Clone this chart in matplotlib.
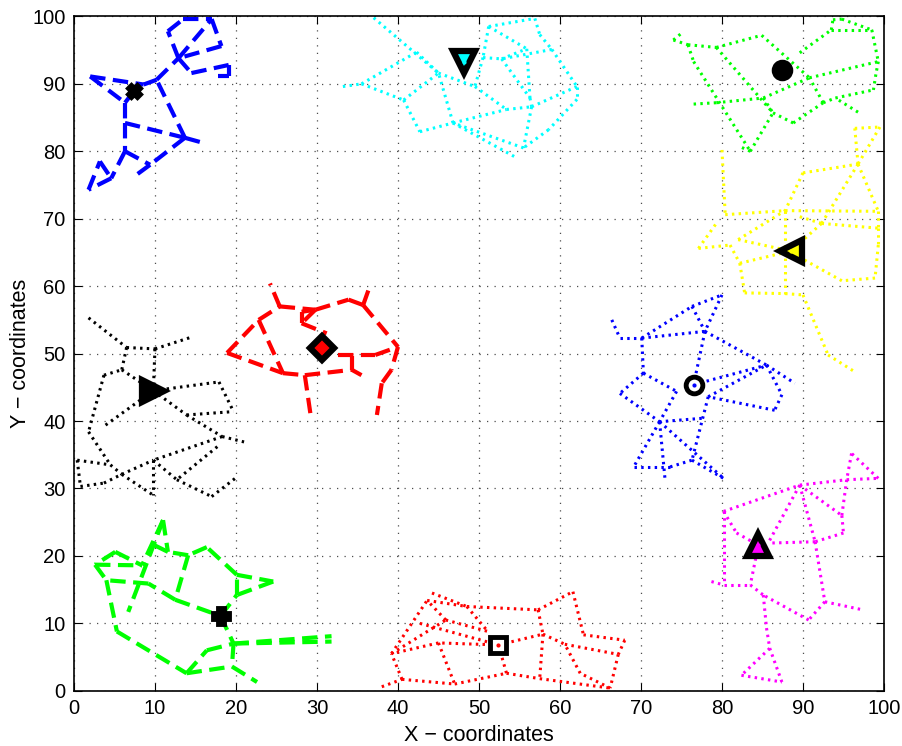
import matplotlib
matplotlib.use("Agg")
import matplotlib.pyplot as plt

plt.rcParams['font.family'] = ['Liberation Sans', 'DejaVu Sans']

# cluster nodes (x, y); 'c' is the cluster head
blue_dash_nodes = {
    'c': (7.4, 88.9), 'a': (2.0, 91.1), 'b': (6.3, 87.2), 'd': (8.6, 89.9), 'e': (6.3, 84.2),
    'f': (6.3, 80.0), 'g': (13.7, 82.0), 'h': (16.4, 81.1), 'i': (9.4, 78.0), 'j': (7.7, 76.5),
    'k': (4.6, 76.0), 'l': (1.8, 74.3), 'm': (3.2, 78.5), 'n': (10.2, 90.6), 'o': (12.9, 93.8),
    'p': (11.6, 97.8), 'q': (13.5, 99.6), 'r': (17.0, 99.6), 's': (18.2, 95.6), 't': (14.5, 91.6),
    'u': (19.1, 92.8), 'v': (19.1, 91.1), 'w': (17.8, 91.1)}
blue_dash_links = ['a-d', 'a-b', 'b-c', 'b-e', 'e-f', 'e-g', 'g-h', 'g-n', 'g-i', 'i-j', 'f-i',
                   'f-k', 'k-l', 'l-m', 'm-k', 'd-n', 'n-o', 'o-t', 'o-p', 'p-q', 'q-r', 'r-s',
                   's-o', 'o-r', 't-u', 'u-v', 'v-w']

cyan_nodes = {
    'c': (48.1, 93.2), 'a': (33.2, 89.6), 'b': (35.5, 90.0), 'd': (42.3, 94.7), 'e': (40.7, 87.6),
    'f': (37.0, 99.8), 'g': (45.0, 91.6), 'h': (42.7, 82.9), 'i': (46.8, 84.2), 'j': (49.5, 89.6),
    'k': (50.5, 93.9), 'l': (51.2, 98.5), 'm': (56.9, 99.7), 'n': (59.0, 95.1), 'o': (55.9, 95.2),
    'p': (52.8, 93.7), 'q': (62.1, 89.6), 'r': (62.1, 87.7), 's': (56.5, 86.6), 't': (53.4, 86.2),
    'u': (55.5, 80.5), 'v': (54.4, 79.2), 'w': (58.6, 83.2), 'x': (56.3, 87.9), 'y': (57.5, 97.3)}
cyan_links = ['a-b', 'b-d', 'b-e', 'd-g', 'g-j', 'f-g', 'e-g', 'e-h', 'h-i', 'i-g', 'i-t', 'j-t',
              't-s', 's-q', 'q-r', 'r-w', 'w-u', 'u-i', 'i-v', 's-u', 'l-k', 'k-j', 'l-m', 'm-y',
              'y-n', 'n-q', 'l-o', 'o-x', 'k-p', 'p-o', 'p-x', 'x-s', 'n-p']

green_dot_nodes = {
    'c': (87.4, 92.0), 'a': (74.0, 96.5), 'b': (75.0, 97.5), 'd': (75.8, 95.8), 'e': (79.3, 95.4),
    'f': (84.9, 97.2), 'g': (76.5, 93.3), 'h': (83.5, 80.0), 'i': (82.2, 80.7), 'j': (76.5, 87.0),
    'k': (79.3, 87.2), 'l': (85.1, 87.9), 'm': (86.3, 85.7), 'n': (88.8, 84.2), 'o': (89.6, 94.6),
    'p': (93.7, 99.5), 'q': (94.8, 99.6), 'r': (98.5, 98.0), 's': (99.3, 93.3), 't': (99.0, 91.4),
    'u': (90.8, 90.9), 'v': (92.5, 87.2), 'w': (94.0, 87.9), 'x': (98.7, 89.1), 'y': (96.8, 85.8),
    'z': (93.5, 98.0)}
green_dot_links = ['a-b', 'a-d', 'd-e', 'e-f', 'd-g', 'g-h', 'h-i', 'e-m', 'f-u', 'j-k', 'k-l',
                   'l-u', 'l-m', 'm-n', 'n-v', 'v-u', 'u-s', 'v-w', 'w-x', 'y-w', 'o-z', 'z-p',
                   'p-q', 'q-r', 'r-s', 's-t', 't-x', 'z-r', 'h-m']

yellow_nodes = {
    'c': (88.5, 65.2), 'a': (80.0, 80.2), 'b': (80.4, 70.6), 'd': (77.1, 65.6), 'e': (79.3, 69.3),
    'f': (81.0, 66.1), 'g': (82.0, 66.9), 'h': (82.2, 63.4), 'i': (87.8, 71.2), 'j': (90.0, 76.8),
    'k': (96.8, 78.1), 'l': (96.4, 83.4), 'm': (99.5, 83.6), 'n': (99.3, 71.1), 'o': (99.3, 66.1),
    'p': (98.9, 61.2), 'q': (94.8, 60.8), 'r': (92.3, 69.3), 's': (89.7, 64.2), 't': (90.0, 58.7),
    'u': (82.8, 59.0), 'v': (93.1, 49.8), 'w': (96.4, 47.3), 'x': (89.6, 70.3), 'y': (87.8, 58.9),
    'z': (99.3, 68.6)}
yellow_links = ['a-b', 'b-i', 'd-e', 'd-f', 'f-h', 'h-u', 'g-i', 'g-c', 'h-c', 'u-y', 'y-t', 'i-y',
                'j-k', 'j-i', 'k-l', 'l-m', 'm-k', 'k-n', 'i-n', 'r-z', 'n-z', 'z-o', 'o-p', 'p-q',
                'q-s', 'r-c', 'x-r', 'r-k', 't-v', 'v-w', 'c-s']

red_dash_nodes = {
    'c': (30.6, 50.8), 'a': (18.9, 50.1), 'b': (22.8, 55.0), 'd': (25.4, 57.0), 'e': (24.2, 60.4),
    'f': (29.8, 56.5), 'g': (28.1, 54.5), 'h': (31.2, 53.0), 'i': (25.8, 47.1), 'j': (28.5, 46.8),
    'k': (29.3, 40.2), 'l': (34.3, 47.6), 'm': (35.5, 46.8), 'n': (33.9, 58.0), 'o': (35.7, 57.2),
    'p': (36.5, 59.9), 'q': (40.0, 51.0), 'r': (32.6, 49.8), 's': (38.0, 45.6), 't': (39.2, 47.6),
    'u': (37.4, 40.9), 'v': (37.2, 49.8), 'w': (28.1, 56.2), 'x': (34.3, 49.7)}
red_dash_links = ['a-b', 'b-d', 'd-e', 'd-f', 'f-n', 'f-g', 'g-w', 'w-f', 'g-h', 'a-i', 'b-i',
                  'i-j', 'j-l', 'l-m', 'j-k', 'r-v', 'v-q', 'n-o', 'o-p', 'o-q', 'q-t', 't-s',
                  's-u', 'l-x']

black_nodes = {
    'c': (9.8, 44.5), 'a': (1.8, 55.3), 'b': (6.5, 50.9), 'd': (10.0, 50.7), 'e': (14.4, 52.4),
    'f': (5.9, 47.6), 'g': (3.7, 46.8), 'h': (1.8, 38.4), 'i': (3.9, 39.4), 'j': (13.9, 40.9),
    'k': (17.9, 45.8), 'l': (19.7, 41.4), 'm': (18.3, 37.7), 'n': (21.0, 36.9), 'o': (17.7, 36.2),
    'p': (9.8, 34.2), 'q': (0.4, 34.2), 'r': (0.8, 30.3), 's': (3.7, 30.8), 't': (5.9, 32.1),
    'u': (9.8, 29.0), 'v': (12.7, 31.3), 'w': (17.0, 28.8), 'x': (19.9, 31.5), 'y': (4.5, 33.5)}
black_links = ['a-b', 'b-d', 'd-e', 'b-f', 'd-c', 'f-c', 'g-h', 'c-k', 'c-j', 'i-c', 'j-l', 'k-l',
               'j-m', 'm-n', 'm-p', 'o-v', 'p-u', 'p-v', 'v-w', 'w-x', 'h-y', 'q-y', 'y-t', 't-p',
               't-u', 'r-s', 's-t', 'q-r', 'g-f']

blue_dot_nodes = {
    'c': (76.5, 45.4), 'a': (66.4, 55.0), 'b': (67.4, 52.3), 'd': (70.1, 52.3), 'e': (76.3, 57.0),
    'f': (80.0, 58.7), 'g': (77.9, 53.3), 'h': (70.3, 47.1), 'i': (67.4, 44.1), 'j': (85.5, 48.3),
    'k': (89.0, 45.6), 'l': (87.4, 43.9), 'm': (86.5, 41.6), 'n': (78.3, 43.6), 'o': (77.5, 40.4),
    'p': (72.3, 39.9), 'q': (69.1, 33.2), 'r': (73.6, 33.2), 's': (76.3, 34.2), 't': (80.2, 31.5),
    'u': (74.4, 44.4), 'v': (73.0, 31.0)}
blue_dot_links = ['a-b', 'b-d', 'd-g', 'd-e', 'e-f', 'f-g', 'e-g', 'g-j', 'g-c', 'd-h', 'h-i',
                  'h-u', 'c-j', 'j-k', 'j-l', 'l-m', 'm-n', 'n-s', 'o-p', 'u-p', 'p-q', 'p-t',
                  'i-p', 'q-r', 'r-s', 's-t', 'p-v', 'n-j']

magenta_nodes = {
    'c': (84.5, 21.6), 'a': (80.2, 26.6), 'b': (89.6, 30.5), 'd': (95.4, 31.3), 'e': (99.3, 31.5),
    'f': (96.0, 35.2), 'g': (94.8, 26.0), 'h': (95.0, 23.4), 'i': (91.5, 22.1), 'j': (85.7, 21.9),
    'k': (81.8, 23.4), 'l': (78.7, 16.2), 'm': (83.5, 15.7), 'n': (85.1, 14.2), 'o': (90.7, 10.5),
    'p': (92.7, 13.2), 'q': (97.4, 12.0), 'r': (85.5, 9.3), 's': (85.9, 6.3), 't': (82.4, 2.3),
    'u': (87.4, 1.3), 'v': (80.2, 15.7)}
magenta_links = ['a-b', 'b-d', 'd-e', 'e-f', 'f-d', 'b-g', 'g-h', 'h-i', 'i-j', 'b-j', 'a-k',
                 'k-c', 'a-v', 'l-v', 'v-m', 'c-m', 'b-i', 'i-p', 'p-q', 'p-o', 'o-n', 'm-n',
                 'n-r', 'r-s', 's-t', 't-u', 'u-s', 'd-g']

green_dash_nodes = {
    'c': (18.1, 11.1), 'a': (2.6, 18.7), 'b': (4.0, 16.4), 'd': (5.3, 8.8), 'e': (13.9, 2.6),
    'f': (19.5, 3.6), 'g': (22.6, 1.3), 'h': (19.7, 7.0), 'i': (16.4, 6.0), 'j': (31.8, 7.3),
    'k': (20.1, 14.2), 'l': (20.1, 17.2), 'm': (24.6, 16.2), 'n': (16.4, 21.3), 'o': (14.1, 20.1),
    'p': (12.5, 13.5), 'q': (9.2, 15.9), 'r': (11.0, 25.3), 's': (6.7, 11.7), 't': (8.4, 18.6),
    'u': (5.1, 20.6), 'v': (11.6, 20.6), 'w': (9.4, 21.9), 'x': (31.8, 8.1)}
green_dash_links = ['a-b', 'b-d', 'd-e', 'e-f', 'f-g', 'e-i', 'i-h', 'h-f', 'c-h', 'h-j', 'h-x',
                    'c-k', 'k-l', 'l-m', 'm-k', 'l-n', 'n-o', 'o-p', 'p-c', 'p-q', 'q-b', 'r-t',
                    'r-v', 'r-s', 'o-v', 'v-w', 'u-a', 'u-t', 'a-t']

red_dot_nodes = {
    'c': (52.4, 6.8), 'a': (38.0, 0.6), 'b': (40.5, 1.7), 'd': (39.2, 5.5), 'e': (42.7, 10.0),
    'f': (44.2, 14.5), 'g': (43.6, 13.4), 'h': (48.5, 12.5), 'i': (57.3, 12.0), 'j': (61.6, 14.7),
    'k': (62.9, 8.3), 'l': (68.0, 7.5), 'm': (67.2, 5.4), 'n': (66.2, 0.4), 'o': (60.6, 6.9),
    'p': (57.9, 8.4), 'q': (57.5, 1.8), 'r': (53.4, 2.6), 's': (47.0, 1.0), 't': (45.0, 7.1),
    'u': (45.9, 10.5), 'v': (51.1, 8.8), 'w': (62.5, 2.6)}
red_dot_links = ['a-b', 'b-d', 'd-g', 'f-h', 'g-h', 'h-i', 'i-j', 'j-k', 'k-l', 'l-m', 'm-n',
                 'o-m', 'n-w', 'w-o', 'q-n', 'i-p', 'p-q', 'c-p', 'p-o', 'c-r', 'r-q', 'c-t',
                 't-d', 't-s', 'b-s', 's-r', 'u-g', 'd-u', 'u-v', 'h-v', 'e-c']

# (nodes, links, colour, line style, head marker, head face colour)
clusters = [
    (blue_dash_nodes, blue_dash_links, '#0000ff', '--', 'X', 'k'),
    (cyan_nodes, cyan_links, '#00ffff', ':', 'v', '#00ffff'),
    (green_dot_nodes, green_dot_links, '#00ff00', ':', 'o', 'k'),
    (yellow_nodes, yellow_links, '#ffff00', ':', '<', '#ffff00'),
    (red_dash_nodes, red_dash_links, '#ff0000', '--', 'D', '#ff0000'),
    (black_nodes, black_links, 'k', ':', '>', 'k'),
    (blue_dot_nodes, blue_dot_links, '#0000ff', ':', 'o', 'w'),
    (magenta_nodes, magenta_links, '#ff00ff', ':', '^', '#ff00ff'),
    (green_dash_nodes, green_dash_links, '#00ff00', '--', 'P', 'k'),
    (red_dot_nodes, red_dot_links, '#ff0000', ':', 's', 'w'),
]

fig = plt.figure(figsize=(9.02, 7.46), dpi=100)
ax = fig.add_axes([0.082, 0.074, 0.898, 0.904])

for nodes, links, col, ls, mk, face in clusters:
    for link in links:
        p, q = link.split('-')
        x0, y0 = nodes[p]
        x1, y1 = nodes[q]
        if ls == '--':
            ax.plot([x0, x1], [y0, y1], color=col, lw=3, ls=(0, (3.7, 1.8)), zorder=2)
        else:
            ax.plot([x0, x1], [y0, y1], color=col, lw=2.2, ls=(0, (0.8, 1.4)), zorder=2)

for nodes, links, col, ls, mk, face in clusters:
    hx, hy = nodes['c']
    size = {'X': 9, 'o': 12, 'P': 11, 'D': 12, 's': 11}.get(mk, 16)
    edge = 4.5 if mk in 'v<>^D' else 3.5
    ax.plot(hx, hy, marker=mk, ms=size, mfc=face, mec='k', mew=edge, zorder=5)
    if face != 'k':
        ax.plot(hx, hy, marker='.', ms=4, color=col, zorder=6)

ax.set_xlim(0, 100)
ax.set_ylim(0, 100)
ax.set_xticks(range(0, 101, 10))
ax.set_yticks(range(0, 101, 10))
ax.grid(True, color='0.3', ls=(0, (1, 5)), lw=0.9)
ax.tick_params(direction='in', top=True, right=True, length=6, labelsize=14.5, pad=6)
for sp in ax.spines.values():
    sp.set_linewidth(1.2)
ax.set_xlabel('X − coordinates', fontsize=15.5, labelpad=5)
ax.set_ylabel('Y − coordinates', fontsize=15.5, labelpad=1)

fig.savefig('out.png', dpi=100)
